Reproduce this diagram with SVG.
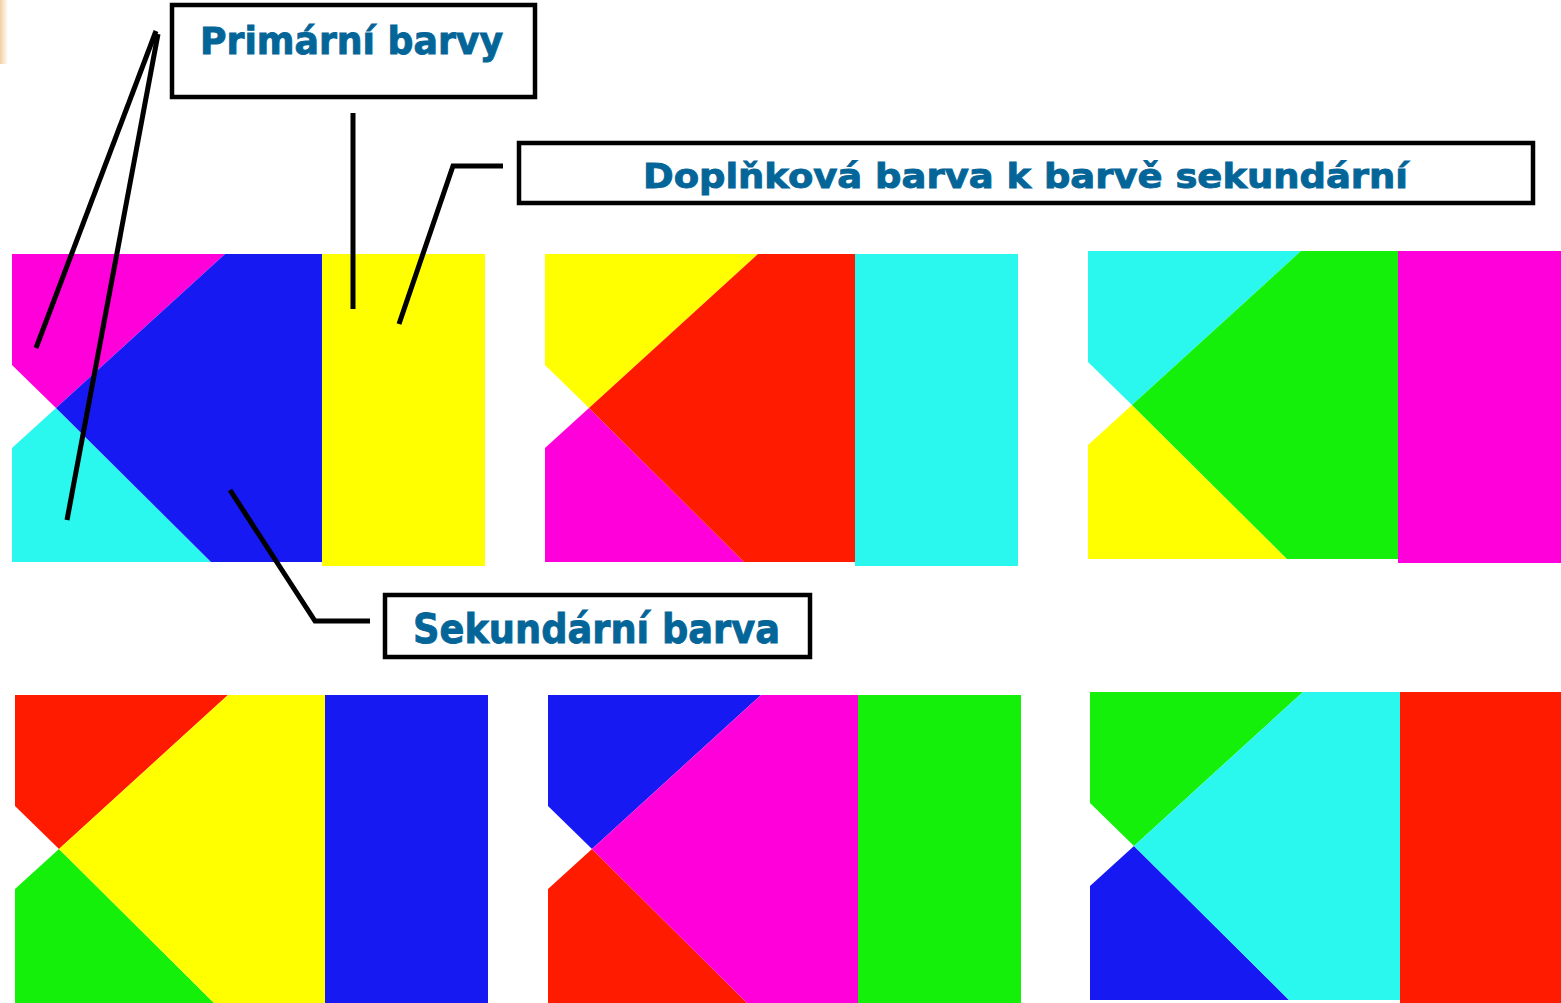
<svg xmlns="http://www.w3.org/2000/svg" xmlns:xlink="http://www.w3.org/1999/xlink" width="1561" height="1003" viewBox="0 0 1561 1003">
  <style>
    .lbl rect { fill: #ffffff; stroke: #000000; stroke-width: 4.5; }
    .lbl text { font-family: "DejaVu Sans", Verdana, sans-serif; font-weight: bold; fill: #046598; stroke: #046598; stroke-width: 0.9; }
    .conn line, .conn polyline { stroke: #000000; stroke-width: 5; fill: none; }
    .m { fill: #FF00DA; } .b { fill: #1619F2; } .c { fill: #2AF7EE; }
    .y { fill: #FFFF00; } .r { fill: #FF1B00; } .g { fill: #14F00A; }
  </style>
  <defs>
    <path id="top" d="M0,0 H213 L44,154 L0,111 Z"/>
    <path id="bot" d="M0,194 L44,154 L199,308 H0 Z"/>
    <path id="mid" d="M213,0 H310 V308 H199 L44,154 Z"/>
    <rect id="side" x="310" y="0" width="163" height="312"/>
    <linearGradient id="peach" x1="0" y1="0" x2="1" y2="0">
      <stop offset="0" stop-color="#f3cfa3"/>
      <stop offset="1" stop-color="#f3cfa3" stop-opacity="0"/>
    </linearGradient>
  </defs>
  <rect x="0" y="0" width="1561" height="1003" fill="#ffffff"/>
  <rect x="0" y="0" width="8" height="64" fill="url(#peach)"/>

  <g id="panel1" transform="translate(12,254)">
    <use xlink:href="#top" class="m"/><use xlink:href="#bot" class="c"/><use xlink:href="#mid" class="b"/><use xlink:href="#side" class="y"/>
  </g>
  <g id="panel2" transform="translate(545,254)">
    <use xlink:href="#top" class="y"/><use xlink:href="#bot" class="m"/><use xlink:href="#mid" class="r"/><use xlink:href="#side" class="c"/>
  </g>
  <g id="panel3" transform="translate(1088,251)">
    <use xlink:href="#top" class="c"/><use xlink:href="#bot" class="y"/><use xlink:href="#mid" class="g"/><use xlink:href="#side" class="m"/>
  </g>
  <g id="panel4" transform="translate(15,695)">
    <use xlink:href="#top" class="r"/><use xlink:href="#bot" class="g"/><use xlink:href="#mid" class="y"/><use xlink:href="#side" class="b"/>
  </g>
  <g id="panel5" transform="translate(548,695)">
    <use xlink:href="#top" class="b"/><use xlink:href="#bot" class="r"/><use xlink:href="#mid" class="m"/><use xlink:href="#side" class="g"/>
  </g>
  <g id="panel6" transform="translate(1090,692)">
    <use xlink:href="#top" class="g"/><use xlink:href="#bot" class="b"/><use xlink:href="#mid" class="c"/><use xlink:href="#side" class="r"/>
  </g>

  <g id="connectors" class="conn">
    <line x1="156" y1="31" x2="36" y2="348"/>
    <line x1="158" y1="34" x2="67" y2="520"/>
    <line x1="353" y1="113" x2="353" y2="309"/>
    <polyline points="503,166 453,166 399,324"/>
    <polyline points="230,490 315,621 370,621"/>
  </g>

  <g id="label-primarni" class="lbl">
    <rect x="172" y="5" width="363" height="92"/>
    <text x="200" y="54" font-size="37" textLength="303" lengthAdjust="spacingAndGlyphs">Primární barvy</text>
  </g>
  <g id="label-doplnkova" class="lbl">
    <rect x="519" y="143" width="1014" height="60"/>
    <text x="643" y="188" font-size="34" textLength="765" lengthAdjust="spacingAndGlyphs">Doplňková barva k barvě sekundární</text>
  </g>
  <g id="label-sekundarni" class="lbl">
    <rect x="385" y="595" width="425" height="62"/>
    <text x="413" y="643" font-size="41" textLength="367" lengthAdjust="spacingAndGlyphs">Sekundární barva</text>
  </g>
</svg>
